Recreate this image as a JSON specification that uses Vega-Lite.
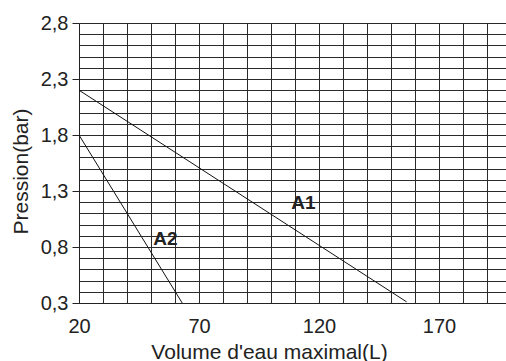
{
  "$schema": "https://vega.github.io/schema/vega-lite/v6.json",
  "width": 427,
  "height": 280,
  "autosize": {"type": "none"},
  "padding": {"left": 79, "top": 23, "right": 0, "bottom": 58},
  "background": "white",
  "config": {
    "view": {"stroke": null},
    "font": "Liberation Sans",
    "axis": {"labelFont": "Liberation Sans", "titleFont": "Liberation Sans", "labelColor": "#222", "titleColor": "#222", "titleFontWeight": "normal"}
  },
  "datasets": {
    "curves": [
      {"series": "A1", "volume": 20, "pression": 2.2},
      {"series": "A1", "volume": 156.5, "pression": 0.31},
      {"series": "A2", "volume": 20, "pression": 1.8},
      {"series": "A2", "volume": 63, "pression": 0.3}
    ],
    "labels": [
      {"label": "A1", "volume": 113.5, "pression": 1.19},
      {"label": "A2", "volume": 56, "pression": 0.87}
    ]
  },
  "layer": [
    {
      "data": {"name": "curves"},
      "mark": {"type": "line", "color": "#111", "strokeWidth": 1, "clip": true},
      "encoding": {
        "x": {
          "field": "volume", "type": "quantitative",
          "scale": {"domain": [20, 197.9], "nice": false, "zero": false},
          "axis": {
            "values": [20, 30, 40, 50, 60, 70, 80, 90, 100, 110, 120, 130, 140, 150, 160, 170, 180, 190],
            "tickCount": 40,
            "labelExpr": "(datum.value - 20) % 50 == 0 ? datum.label : ''",
            "grid": true, "gridColor": "#2a2a2a", "gridWidth": 1, "gridOpacity": 1,
            "domain": true, "domainColor": "#222",
            "ticks": false, "tickSize": 0,
            "labelFontSize": 20, "labelPadding": 13, "labelFlush": false, "labelOverlap": false,
            "title": "Volume d'eau maximal(L)", "titleFontSize": 21,
            "titleX": 190, "titleY": 55, "titleAlign": "center", "titleBaseline": "alphabetic", "titleAnchor": null
          }
        },
        "y": {
          "field": "pression", "type": "quantitative",
          "scale": {"domain": [0.3, 2.8], "nice": false, "zero": false},
          "axis": {
            "values": [0.3, 0.4, 0.5, 0.6, 0.7, 0.8, 0.9, 1.0, 1.1, 1.2, 1.3, 1.4, 1.5, 1.6, 1.7, 1.8, 1.9, 2.0, 2.1, 2.2, 2.3, 2.4, 2.5, 2.6, 2.7, 2.8],
            "tickCount": 40,
            "labelExpr": "round(datum.value * 10 - 3) % 5 == 0 ? replace(format(datum.value, '.1f'), '.', ',') : ''",
            "grid": true, "gridColor": "#2a2a2a", "gridWidth": 1, "gridOpacity": 1,
            "domain": true, "domainColor": "#222",
            "ticks": true, "tickSize": 7, "tickColor": "#222",
            "tickOpacity": {"condition": {"test": "round(datum.value * 10 - 3) % 5 == 0", "value": 1}, "value": 0},
            "labelFontSize": 20, "labelPadding": 4, "labelFlush": false, "labelOverlap": false,
            "title": "Pression(bar)", "titleFontSize": 21,
            "titleX": -52, "titleY": 148, "titleAngle": -90, "titleAlign": "center", "titleBaseline": "alphabetic", "titleAnchor": null
          }
        },
        "detail": {"field": "series"}
      }
    },
    {
      "data": {"name": "labels"},
      "mark": {"type": "text", "fontWeight": "bold", "fontSize": 19, "color": "#222", "font": "Liberation Sans", "baseline": "middle", "align": "center"},
      "encoding": {
        "x": {"field": "volume", "type": "quantitative"},
        "y": {"field": "pression", "type": "quantitative"},
        "text": {"field": "label"}
      }
    }
  ]
}
